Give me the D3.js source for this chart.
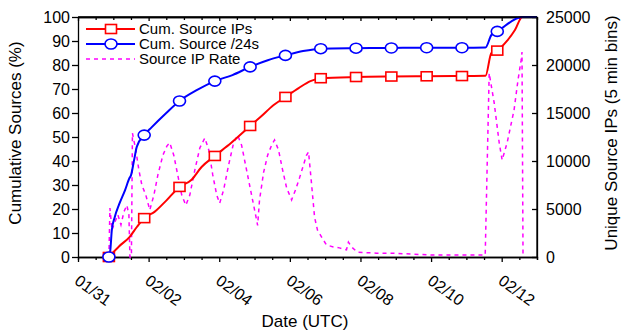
<!DOCTYPE html>
<html>
<head>
<meta charset="utf-8">
<script src="https://cdn.jsdelivr.net/npm/d3@7"></script>
<style>
    body { margin: 0; background: #fff; }
    text { font-family: Arial, "Liberation Sans", sans-serif; fill: #000; }
    .axis path, .axis line { stroke: #000; stroke-width: 1.3; }
    .axis text { font-size: 16px; }
</style>
</head>
<body>
<div id="chart-location"></div>
<script>
// (DATA) hours counted from 01/31 00:00 UTC
var xTickLabels = ["01/31", "02/02", "02/04", "02/06", "02/08", "02/10", "02/12"];
var xTickHours = [0, 48, 96, 144, 192, 240, 288];

// cumulative source IPs (%)
var ipHours = [21, 28, 35, 40, 45, 52, 60, 69, 77, 84, 93, 104, 117, 124, 133, 141, 150, 158, 165,
    189, 213, 237, 261, 277, 281, 285, 291, 297, 302, 312];
var ipValues = [0, 4.5, 8.3, 12.5, 16.2, 18.8, 23.5, 29.2, 32.1, 37.5, 42.1, 47.5, 54.6, 58.3, 63.3, 66.7, 70.4, 73.3, 74.5,
    75.0, 75.2, 75.3, 75.4, 75.5, 85, 86, 89.6, 94.6, 100, 100];

// cumulative source /24s (%)
var netHours = [21, 22, 23, 25, 28, 32, 35, 36, 38, 40, 45, 50, 60, 69, 81, 93, 105, 117, 129, 141, 153, 165,
    189, 213, 237, 261, 277, 281, 285, 302, 312];
var netValues = [0, 3, 11.3, 16.7, 22, 27.9, 32.9, 34, 40, 46, 50.8, 54, 60, 65, 69.6, 73.3, 75.8, 79.2, 82, 84, 85.8, 86.8,
    87.0, 87.1, 87.2, 87.2, 87.3, 92.5, 94, 100, 100];

// unique source IPs per 5 min bin
var rateHours = [21, 21.7, 23.1, 25.1, 27.1, 29.2, 31.2, 33.2, 34.6, 35.3, 36.3, 37.0, 39.3, 41.4, 43.4, 46.1,
    48.8, 51.6, 54.3, 57.7, 60.4, 62.4, 65.1, 67.8, 70.5, 73.3, 76.0, 79.4, 82.8, 86.2, 88.9, 91.6, 94.3, 96.3,
    99.0, 102.4, 105.8, 108.5, 111.2, 114.6, 118.0, 120.7, 122.1, 123.4, 126.2, 128.9, 131.6, 133.6, 136.3,
    139.1, 141.8, 145.2, 147.9, 150.6, 153.3, 155.3, 156.7, 158.7, 160.8, 162.8, 165.5, 168.9, 173.6, 177.7,
    182.5, 183.8, 185.9, 189.9, 202.8, 213.7, 227.2, 240.8, 257.1, 272.7, 276.8, 279.5, 282.9, 286.3, 288.3,
    291.7, 296.4, 299.1, 301.2, 301.8, 302.5];
var rateValues = [0, 5100, 2800, 3650, 4400, 3350, 4700, 5400, 4400, 0, 0, 12900, 11150, 9050, 7500, 6450,
    4900, 6450, 8550, 10600, 11550, 11900, 10600, 8550, 6450, 5400, 6450, 9050, 11350, 12400, 11150, 8550, 6450, 5600,
    7000, 9600, 11900, 12700, 11650, 9050, 6450, 4400, 3300, 5950, 8850, 10600, 11650, 12200, 11150,
    9050, 7200, 5950, 7000, 8250, 9600, 10600, 10950, 7700, 4150, 2800, 2100, 1250, 1050, 950,
    750, 1550, 1050, 500, 400, 400, 300, 200, 200, 200, 200, 19150, 16050, 11900, 10100,
    11900, 15300, 18450, 20500, 21350, 0];

function init() {

    // (VARIABLES)
    var w = 625;
    var h = 331;
    var left = 78, right = 537, top = 17, bottom = 257;

    var svg = d3.select("#chart-location")
        .append("svg")
        .attr("width", w)
        .attr("height", h);

    // (SCALES)
    var xScale = d3.scaleLinear().domain([0, 312]).range([left, right]);
    var yScale = d3.scaleLinear().domain([0, 100]).range([bottom, top]);
    var y2Scale = d3.scaleLinear().domain([0, 25000]).range([bottom, top]);

    // minor ticks every 12 hours
    var minorHours = d3.range(0, 313, 12).filter(function(d) { return d % 48 !== 0; });

    // (X-AXIS) bottom, ticks outward
    svg.append("g")
        .attr("class", "axis")
        .attr("transform", "translate(0," + bottom + ")")
        .call(d3.axisBottom(xScale).tickValues(minorHours).tickSize(3).tickFormat(""));
    var xAxis = svg.append("g")
        .attr("class", "axis")
        .attr("transform", "translate(0," + bottom + ")")
        .call(d3.axisBottom(xScale).tickValues(xTickHours).tickSizeInner(5).tickSizeOuter(0)
            .tickFormat(function(d, i) { return xTickLabels[i]; }));
    xAxis.selectAll("text")
        .attr("x", 0).attr("y", 0).attr("dy", 0)
        .style("text-anchor", "start")
        .attr("transform", "translate(-5,26) rotate(36)");

    // top axis, ticks inward
    svg.append("g")
        .attr("class", "axis")
        .attr("transform", "translate(0," + top + ")")
        .call(d3.axisTop(xScale).tickValues(minorHours).tickSize(-3).tickSizeOuter(0).tickFormat(""));
    svg.append("g")
        .attr("class", "axis")
        .attr("transform", "translate(0," + top + ")")
        .call(d3.axisTop(xScale).tickValues(xTickHours).tickSize(-4).tickSizeOuter(0).tickFormat(""));

    // (Y-AXIS) left
    svg.append("g")
        .attr("class", "axis")
        .attr("transform", "translate(" + left + ",0)")
        .call(d3.axisLeft(yScale).tickValues(d3.range(0, 101, 10)).tickSizeInner(6).tickSizeOuter(0).tickPadding(2));

    // (Y-AXIS) right, ticks inward
    svg.append("g")
        .attr("class", "axis")
        .attr("transform", "translate(" + right + ",0)")
        .call(d3.axisRight(y2Scale).tickValues(d3.range(0, 25001, 5000)).tickFormat(d3.format("d"))
            .tickSizeInner(-5).tickSizeOuter(0).tickPadding(9));

    // (AXIS TITLES)
    svg.append("text")
        .attr("transform", "translate(21,133) rotate(-90)")
        .attr("text-anchor", "middle")
        .style("font-size", "17px")
        .text("Cumulative Sources (%)");
    svg.append("text")
        .attr("transform", "translate(617,133) rotate(-90)")
        .attr("text-anchor", "middle")
        .style("font-size", "17px")
        .text("Unique Source IPs (5 min bins)");
    svg.append("text")
        .attr("x", 305)
        .attr("y", 327)
        .attr("text-anchor", "middle")
        .style("font-size", "17px")
        .text("Date (UTC)");

    // (LINES)
    var rateLine = d3.line()
        .x(function(d) { return xScale(d[0]); })
        .y(function(d) { return y2Scale(d[1]); });
    var cumLine = d3.line()
        .curve(d3.curveMonotoneX)
        .x(function(d) { return xScale(d[0]); })
        .y(function(d) { return yScale(d[1]); });

    svg.append("path")
        .datum(d3.zip(rateHours, rateValues))
        .attr("d", rateLine)
        .attr("fill", "none")
        .attr("stroke", "#ff00ff")
        .attr("stroke-width", 1.5)
        .attr("stroke-dasharray", "4,4");

    var ipData = d3.zip(ipHours, ipValues);
    var netData = d3.zip(netHours, netValues);

    svg.append("path")
        .datum(ipData)
        .attr("d", cumLine)
        .attr("fill", "none")
        .attr("stroke", "#ff0000")
        .attr("stroke-width", 2);
    svg.append("path")
        .datum(netData)
        .attr("d", cumLine)
        .attr("fill", "none")
        .attr("stroke", "#0000ff")
        .attr("stroke-width", 2);

    // (MARKERS) one per day at 21:00
    function isMarker(d) { return (d[0] - 21) % 24 === 0 && d[0] <= 285; }

    svg.selectAll(".ip-marker")
        .data(ipData.filter(isMarker))
        .enter()
        .append("rect")
        .attr("x", function(d) { return xScale(d[0]) - 5.5; })
        .attr("y", function(d) { return yScale(d[1]) - 4.5; })
        .attr("width", 11)
        .attr("height", 9)
        .attr("fill", "#fff")
        .attr("stroke", "#ff0000")
        .attr("stroke-width", 1.6);
    svg.selectAll(".net-marker")
        .data(netData.filter(isMarker))
        .enter()
        .append("ellipse")
        .attr("cx", function(d) { return xScale(d[0]); })
        .attr("cy", function(d) { return yScale(d[1]); })
        .attr("rx", 6)
        .attr("ry", 5)
        .attr("fill", "#fff")
        .attr("stroke", "#0000ff")
        .attr("stroke-width", 1.6);

    // (FRAME) top and right border lines
    svg.append("line").attr("x1", left).attr("x2", right).attr("y1", top).attr("y2", top)
        .attr("stroke", "#000").attr("stroke-width", 1.3);
    svg.append("line").attr("x1", right).attr("x2", right).attr("y1", top).attr("y2", bottom)
        .attr("stroke", "#000").attr("stroke-width", 1.3);

    // (LEGEND)
    var legend = svg.append("g");
    var items = [
        { label: "Cum. Source IPs", color: "#ff0000", y: 29, mark: "square" },
        { label: "Cum. Source /24s", color: "#0000ff", y: 44, mark: "circle" },
        { label: "Source IP Rate", color: "#ff00ff", y: 59, mark: "none" }
    ];
    items.forEach(function(it) {
        legend.append("line")
            .attr("x1", 86).attr("x2", 135)
            .attr("y1", it.y).attr("y2", it.y)
            .attr("stroke", it.color)
            .attr("stroke-width", it.mark === "none" ? 1.5 : 2)
            .attr("stroke-dasharray", it.mark === "none" ? "4,4" : null);
        if (it.mark === "square") {
            legend.append("rect")
                .attr("x", 105.5).attr("y", it.y - 4.5)
                .attr("width", 11).attr("height", 9)
                .attr("fill", "#fff").attr("stroke", it.color).attr("stroke-width", 1.6);
        } else if (it.mark === "circle") {
            legend.append("ellipse")
                .attr("cx", 111).attr("cy", it.y)
                .attr("rx", 6).attr("ry", 5)
                .attr("fill", "#fff").attr("stroke", it.color).attr("stroke-width", 1.6);
        }
        legend.append("text")
            .attr("x", 139)
            .attr("y", it.y + 5)
            .style("font-size", "15px")
            .text(it.label);
    });
}

window.onload = init;
</script>
</body>
</html>
